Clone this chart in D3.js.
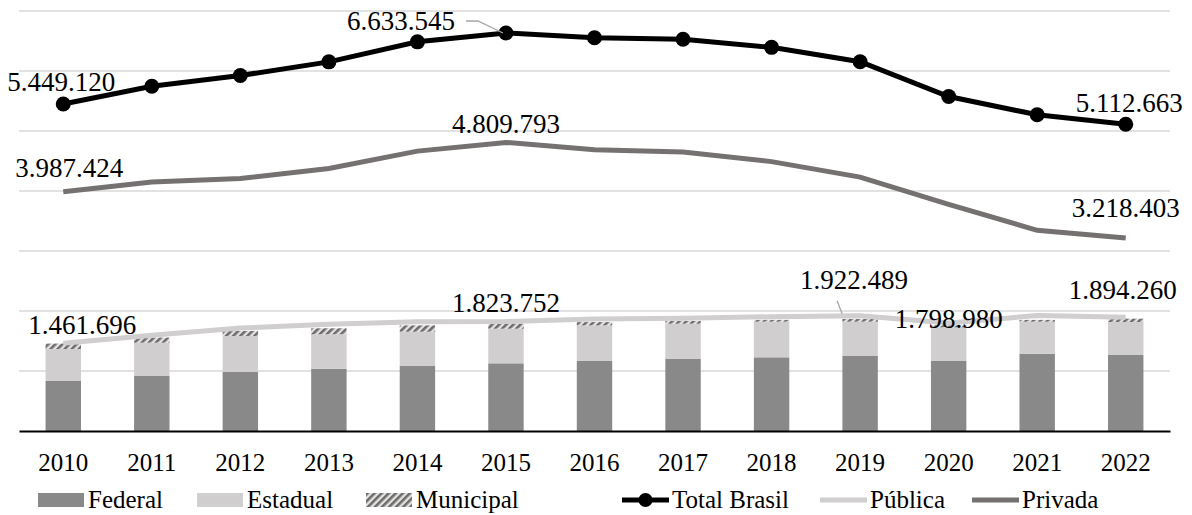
<!DOCTYPE html>
<html>
<head>
<meta charset="utf-8">
<script src="https://cdn.jsdelivr.net/npm/d3@7"></script>
<style>
  body { margin: 0; background: #fff; }
  svg text { font-family: "Times New Roman", "Liberation Serif", Tinos, "DejaVu Serif", serif !important; fill: #000; }
</style>
</head>
<body>
<div id="chart"></div>
<script>
// data (matrículas presenciais)
var years = ['2010', '2011', '2012', '2013', '2014', '2015', '2016', '2017', '2018', '2019', '2020', '2021', '2022']
var federal = [833934, 917000, 983000, 1038000, 1083000, 1128000, 1167000, 1200000, 1228000, 1250000, 1167000, 1288000, 1267000]
var estadual = [533000, 555000, 600000, 574000, 572000, 577000, 593000, 588000, 594000, 572000, 561000, 534000, 550000]
var municipal = [90000, 85000, 85000, 100000, 105000, 85000, 55000, 45000, 30000, 45000, 35000, 30000, 55000]
var totalBrasil = [5449120, 5746762, 5923838, 6152405, 6486171, 6633545, 6554283, 6529681, 6394244, 6153560, 5574551, 5270184, 5112663]
var publica = [1461696, 1595391, 1715752, 1777974, 1821629, 1823752, 1867477, 1879784, 1904554, 1922489, 1798980, 1925000, 1894260]
var privada = [3987424, 4151371, 4208086, 4374431, 4664542, 4809793, 4686806, 4649897, 4489690, 4231071, 3775571, 3345184, 3218403]
var yTicks = [0, 1000000, 2000000, 3000000, 4000000, 5000000, 6000000, 7000000]

var width = 1192
var height = 515
var margin = { top: 11, right: 22, bottom: 84, left: 19 }
var innerW = width - margin.left - margin.right
var innerH = height - margin.top - margin.bottom

var fmt = function (v) { return d3.format(',')(v).replace(/,/g, '.') }

var svg = d3.select('#chart').append('svg')
    .attr('width', width)
    .attr('height', height)

// hatch for municipal
var defs = svg.append('defs')
var pat = defs.append('pattern')
    .attr('id', 'hatch')
    .attr('patternUnits', 'userSpaceOnUse')
    .attr('width', 5)
    .attr('height', 5)
    .attr('patternTransform', 'rotate(45)')
pat.append('rect').attr('width', 5).attr('height', 5).attr('fill', '#e4e2e2')
pat.append('rect').attr('width', 2.6).attr('height', 5).attr('fill', '#6e6b6b')

var g = svg.append('g')
    .attr('transform', 'translate(' + margin.left + ',' + margin.top + ')')

var x = d3.scaleBand()
    .domain(years)
    .range([0, innerW])
    .paddingInner(0.6)
    .paddingOuter(0.3)
var xc = function (d) { return x(d) + x.bandwidth() / 2 }
var y = d3.scaleLinear()
    .domain([0, 7000000])
    .range([innerH, 0])

// gridlines
g.append('g').selectAll('line')
    .data(yTicks.slice(1))
    .enter().append('line')
    .attr('x1', 0)
    .attr('x2', innerW)
    .attr('y1', function (d) { return y(d) })
    .attr('y2', function (d) { return y(d) })
    .style('stroke', '#d9d9d9')
    .style('stroke-width', 1.5)

// stacked bars
var rows = years.map(function (yr, i) {
    return { year: yr, federal: federal[i], estadual: estadual[i], municipal: municipal[i] }
})
var stack = d3.stack().keys(['federal', 'estadual', 'municipal'])(rows)
var fills = { federal: '#898989', estadual: '#d0cece', municipal: 'url(#hatch)' }

g.append('g').selectAll('g')
    .data(stack)
    .enter().append('g')
    .style('fill', function (s) { return fills[s.key] })
    .selectAll('rect')
    .data(function (s) { return s })
    .enter().append('rect')
    .attr('x', function (d) { return x(d.data.year) })
    .attr('width', x.bandwidth())
    .attr('y', function (d) { return y(d[1]) })
    .attr('height', function (d) { return y(d[0]) - y(d[1]) })

// axis line
var xAxis = d3.axisBottom(x).tickSize(0).tickPadding(22)
var gx = g.append('g')
    .attr('transform', 'translate(0,' + innerH + ')')
    .call(xAxis)
gx.attr('font-family', null)
gx.select('.domain').style('stroke', '#000').style('stroke-width', 2)
gx.selectAll('text')
    .style('font-size', '25px')
    .style('fill', '#000')

// lines
var line = function (vals) {
    return d3.line()
        .x(function (d, i) { return xc(years[i]) })
        .y(function (d) { return y(d) })(vals)
}
g.append('path').attr('d', line(publica))
    .style('fill', 'none').style('stroke', '#d0cece').style('stroke-width', 5)
g.append('path').attr('d', line(privada))
    .style('fill', 'none').style('stroke', '#767171').style('stroke-width', 5)
g.append('path').attr('d', line(totalBrasil))
    .style('fill', 'none').style('stroke', '#000').style('stroke-width', 5)
g.append('g').selectAll('circle')
    .data(totalBrasil)
    .enter().append('circle')
    .attr('cx', function (d, i) { return xc(years[i]) })
    .attr('cy', function (d) { return y(d) })
    .attr('r', 7.5)
    .style('fill', '#000')

// data labels
var labels = [
    { s: totalBrasil, i: 0, dx: -56, dy: -13, anchor: 'start' },
    { s: totalBrasil, i: 5, dx: -51, dy: -3, anchor: 'end', leader: true },
    { s: totalBrasil, i: 12, dx: 57, dy: -12, anchor: 'end' },
    { s: privada, i: 0, dx: -48, dy: -15, anchor: 'start' },
    { s: privada, i: 5, dx: 0, dy: -9, anchor: 'middle' },
    { s: privada, i: 12, dx: 54, dy: -21, anchor: 'end' },
    { s: publica, i: 0, dx: -35, dy: -9, anchor: 'start' },
    { s: publica, i: 5, dx: 0, dy: -10, anchor: 'middle' },
    { s: publica, i: 9, dx: -60, dy: -27, anchor: 'start', leader2: true },
    { s: publica, i: 10, dx: 0, dy: 5, anchor: 'middle' },
    { s: publica, i: 12, dx: 51, dy: -18, anchor: 'end' }
]
labels.forEach(function (l) {
    var px = xc(years[l.i])
    var py = y(l.s[l.i])
    g.append('text')
        .attr('x', px + l.dx)
        .attr('y', py + l.dy)
        .attr('text-anchor', l.anchor)
        .style('font-size', '27px')
        .text(fmt(l.s[l.i]))
    if (l.leader) {
        g.append('polyline')
            .attr('points', [[px - 40, py - 12], [px - 28, py - 12], [px - 3, py]].join(' '))
            .style('fill', 'none').style('stroke', '#a6a6a6').style('stroke-width', 1.3)
    }
    if (l.leader2) {
        g.append('line')
            .attr('x1', px - 23).attr('y1', py - 15)
            .attr('x2', px - 18).attr('y2', py - 2)
            .style('stroke', '#a6a6a6').style('stroke-width', 1.3)
    }
})

// legend
var legendItems = [
    { name: 'Federal', type: 'rect', fill: '#898989', x: 38 },
    { name: 'Estadual', type: 'rect', fill: '#d0cece', x: 197 },
    { name: 'Municipal', type: 'rect', fill: 'url(#hatch)', x: 366 },
    { name: 'Total Brasil', type: 'marker', fill: '#000', x: 622 },
    { name: 'Pública', type: 'line', fill: '#d0cece', x: 820 },
    { name: 'Privada', type: 'line', fill: '#767171', x: 972 }
]
var legend = svg.append('g').attr('transform', 'translate(0,500)')
legendItems.forEach(function (it) {
    var lg = legend.append('g').attr('transform', 'translate(' + it.x + ',0)')
    if (it.type === 'rect') {
        lg.append('rect').attr('x', 0).attr('y', -7).attr('width', 46).attr('height', 14)
            .style('fill', it.fill)
    } else {
        lg.append('line').attr('x1', 0).attr('x2', 47).attr('y1', 0).attr('y2', 0)
            .style('stroke', it.fill).style('stroke-width', 5)
        if (it.type === 'marker') {
            lg.append('circle').attr('cx', 23.5).attr('cy', 0).attr('r', 7).style('fill', it.fill)
        }
    }
    lg.append('text')
        .attr('x', 50)
        .attr('y', 8)
        .style('font-size', '25px')
        .text(it.name)
})
</script>
</body>
</html>
